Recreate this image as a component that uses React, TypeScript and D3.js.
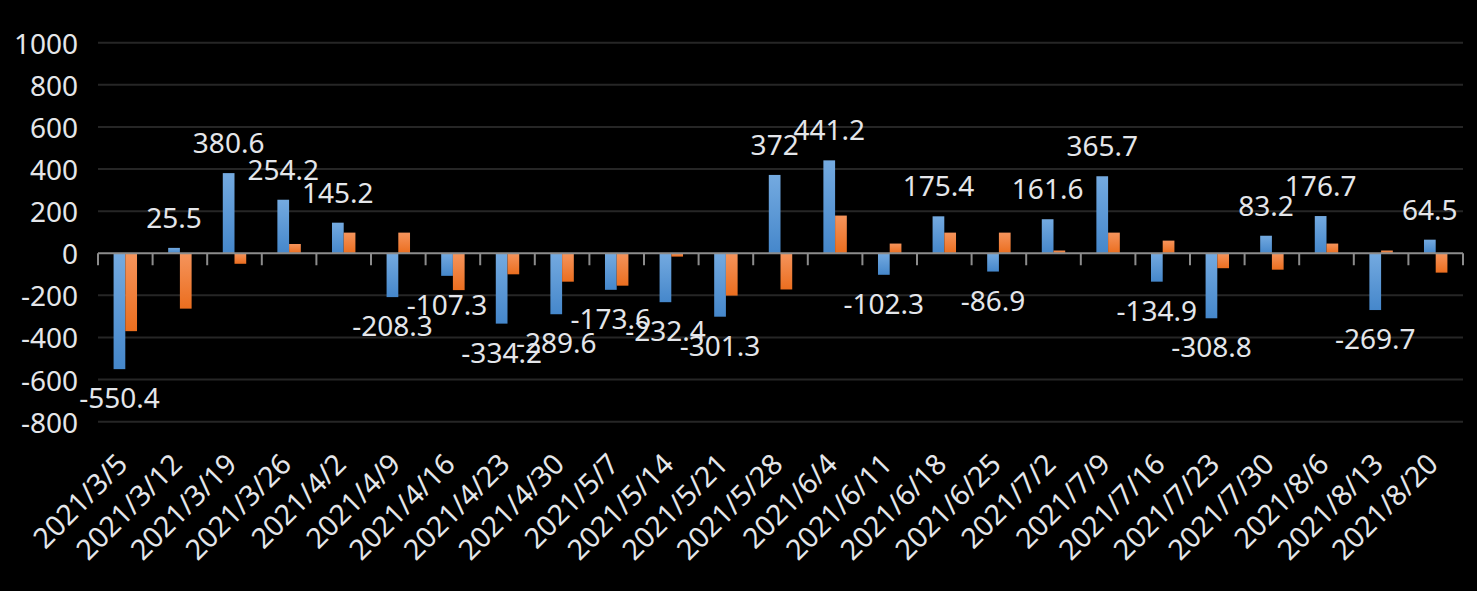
import React, { useEffect, useRef } from 'react';
import * as d3 from 'd3';

// weekly dates
const dates = [
  '2021/3/5', '2021/3/12', '2021/3/19', '2021/3/26', '2021/4/2', '2021/4/9',
  '2021/4/16', '2021/4/23', '2021/4/30', '2021/5/7', '2021/5/14', '2021/5/21',
  '2021/5/28', '2021/6/4', '2021/6/11', '2021/6/18', '2021/6/25', '2021/7/2',
  '2021/7/9', '2021/7/16', '2021/7/23', '2021/7/30', '2021/8/6', '2021/8/13',
  '2021/8/20'
];

// blue series (labelled)
const seriesA = [
  -550.4, 25.5, 380.6, 254.2, 145.2, -208.3, -107.3, -334.2, -289.6, -173.6,
  -232.4, -301.3, 372, 441.2, -102.3, 175.4, -86.9, 161.6, 365.7, -134.9,
  -308.8, 83.2, 176.7, -269.7, 64.5
];

// orange series
const seriesB = [
  -370, -263, -50, 44, 98, 98, -175, -100, -135, -154, -16, -201, -172, 179,
  46, 98, 98, 13, 98, 60, -71, -78, 46, 13, -92
];

const yTicks = [1000, 800, 600, 400, 200, 0, -200, -400, -600, -800];

const W = 1477;
const H = 591;
const FONT = '"Noto Sans", "Open Sans", sans-serif';
const TEXT = '#e4e6ea';

export default function App() {
  const svgRef = useRef<SVGSVGElement>(null);

  useEffect(() => {
    if (!svgRef.current) return;
    const svg = d3.select(svgRef.current);
    svg.selectAll('*').remove();

    const left = 98;
    const right = 1463;

    const x = d3.scaleBand<string>().domain(dates).range([left, right]).paddingInner(0);
    const x1 = d3.scaleBand<string>()
      .domain(['a', 'b'])
      .range([0, x.bandwidth()])
      .paddingInner(0)
      .paddingOuter(1.33);
    const y = d3.scaleLinear().domain([-800, 1000]).range([421.7, 42.7]);

    // gradients
    const defs = svg.append('defs');
    const grad = (id: string, top: string, bottom: string) => {
      const g = defs.append('linearGradient')
        .attr('id', id)
        .attr('x1', 0).attr('y1', 0).attr('x2', 0).attr('y2', 1);
      g.append('stop').attr('offset', '0%').attr('stop-color', top);
      g.append('stop').attr('offset', '100%').attr('stop-color', bottom);
    };
    grad('gBlue', '#74aae0', '#4587cb');
    grad('gOrange', '#f5945c', '#eb6e1f');

    svg.append('rect').attr('width', W).attr('height', H).attr('fill', '#000');

    // gridlines
    svg.append('g')
      .selectAll('line')
      .data(yTicks.filter(t => t !== 0))
      .enter()
      .append('line')
      .attr('x1', left)
      .attr('x2', right)
      .attr('y1', d => y(d))
      .attr('y2', d => y(d))
      .attr('stroke', '#262626')
      .attr('stroke-width', 2);

    // y tick labels
    svg.append('g')
      .selectAll('text')
      .data(yTicks)
      .enter()
      .append('text')
      .attr('x', 78)
      .attr('y', d => y(d))
      .attr('text-anchor', 'end')
      .attr('dominant-baseline', 'central')
      .attr('font-family', FONT)
      .attr('font-size', 28)
      .attr('fill', TEXT)
      .text(d => String(d));

    // bars
    const groups = svg.append('g')
      .selectAll('g')
      .data(dates)
      .enter()
      .append('g')
      .attr('transform', d => `translate(${x(d)},0)`);

    groups.append('rect')
      .attr('x', x1('a')!)
      .attr('width', x1.bandwidth())
      .attr('y', (_, i) => y(Math.max(0, seriesA[i])))
      .attr('height', (_, i) => Math.abs(y(seriesA[i]) - y(0)))
      .attr('fill', 'url(#gBlue)');

    groups.append('rect')
      .attr('x', x1('b')!)
      .attr('width', x1.bandwidth())
      .attr('y', (_, i) => y(Math.max(0, seriesB[i])))
      .attr('height', (_, i) => Math.abs(y(seriesB[i]) - y(0)))
      .attr('fill', 'url(#gOrange)');

    // zero axis + ticks
    svg.append('line')
      .attr('x1', left)
      .attr('x2', right)
      .attr('y1', y(0))
      .attr('y2', y(0))
      .attr('stroke', '#8c8c8c')
      .attr('stroke-width', 2);

    svg.append('g')
      .selectAll('line')
      .data(d3.range(dates.length + 1))
      .enter()
      .append('line')
      .attr('x1', i => left + i * x.step())
      .attr('x2', i => left + i * x.step())
      .attr('y1', y(0))
      .attr('y2', y(0) + 12)
      .attr('stroke', '#8c8c8c')
      .attr('stroke-width', 2);

    // data labels for blue series
    svg.append('g')
      .selectAll('text')
      .data(dates)
      .enter()
      .append('text')
      .attr('x', d => x(d)! + x1('a')! + x1.bandwidth() / 2)
      .attr('y', (_, i) => seriesA[i] >= 0 ? y(seriesA[i]) - 20 : y(seriesA[i]) + 39)
      .attr('text-anchor', 'middle')
      .attr('font-family', FONT)
      .attr('font-size', 28)
      .attr('fill', TEXT)
      .text((_, i) => String(seriesA[i]));

    // x labels rotated
    svg.append('g')
      .selectAll('text')
      .data(dates)
      .enter()
      .append('text')
      .attr('transform', d => `translate(${x(d)! + x.bandwidth() / 2 + 4},466) rotate(-45)`)
      .attr('text-anchor', 'end')
      .attr('font-family', FONT)
      .attr('font-size', 28.5)
      .attr('fill', TEXT)
      .text(d => d);
  }, []);

  return (
    <svg
      ref={svgRef}
      width={W}
      height={H}
      style={{ position: 'absolute', left: 0, top: 0, display: 'block' }}
    />
  );
}
